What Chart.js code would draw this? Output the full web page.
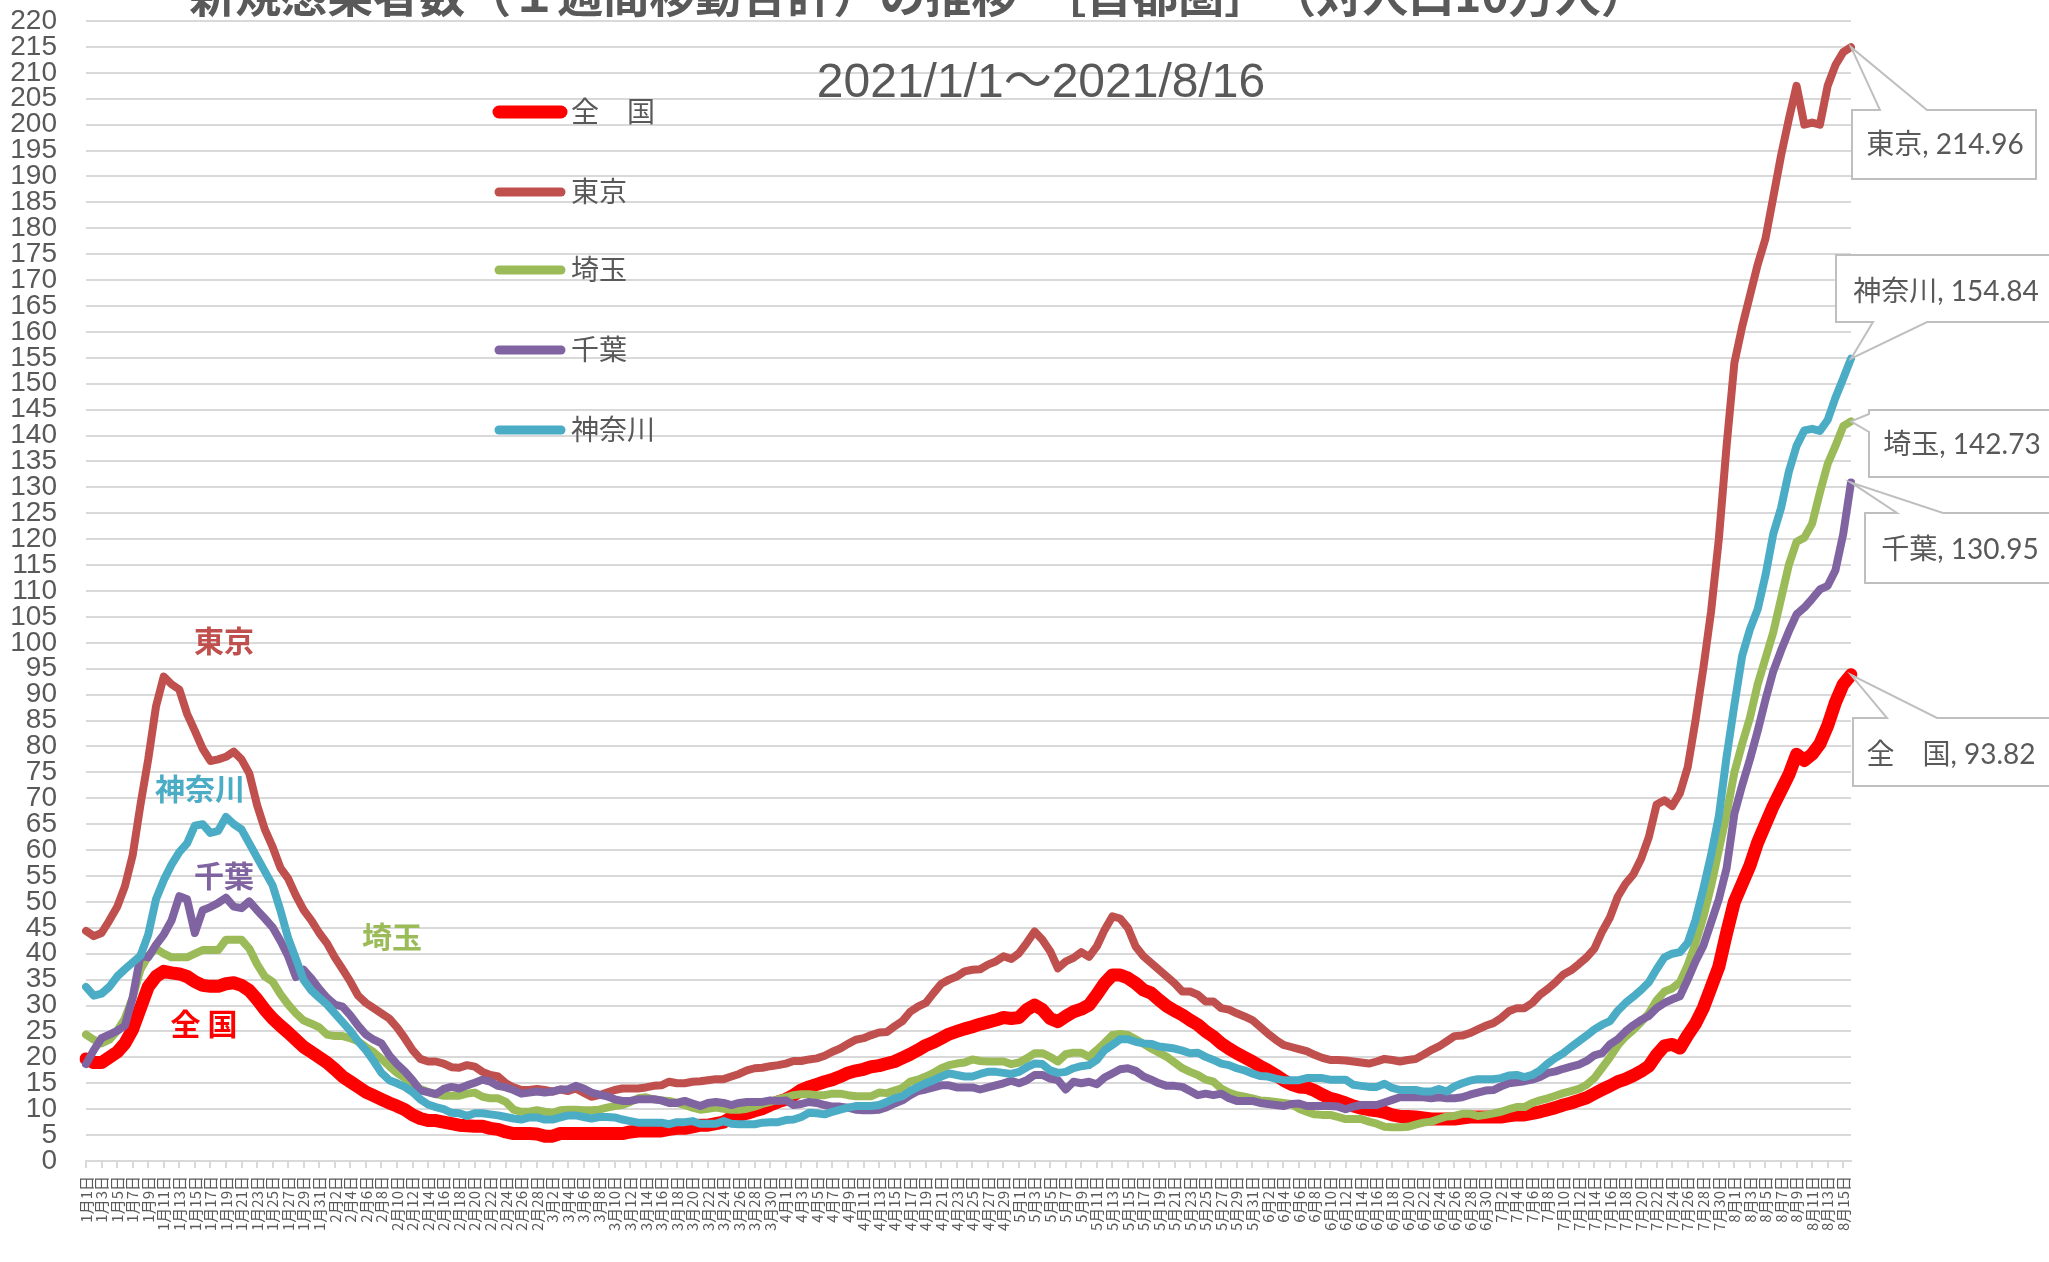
<!DOCTYPE html>
<html lang="ja">
<head>
<meta charset="utf-8">
<title>新規感染者数（１週間移動合計）の推移［首都圏］</title>
<script src="https://cdn.jsdelivr.net/npm/chart.js@4.4.1/dist/chart.umd.min.js"></script>
<style>
  html, body { margin: 0; padding: 0; background: #fff; }
  #wrap { width: 2049px; height: 1262px; }
</style>
</head>
<body>
<div id="wrap"><canvas id="chart" width="2049" height="1262"></canvas></div>
<script>
// --- data: 2021/1/1 .. 2021/8/16, per 100k, 7-day moving total ---
const chartTitle = '新規感染者数（１週間移動合計）の推移　［首都圏］　（対人口10万人）';
const subTitle = '2021/1/1～2021/8/16';
const seriesNames = ['全　国', '東京', '埼玉', '千葉', '神奈川'];

const dateLabels = [];
for (let i = 0; i < 228; i++) {
    const d = new Date(2021, 0, 1 + i);
    dateLabels.push((d.getMonth() + 1) + '月' + d.getDate() + '日');
}

const zenkoku = [
    19.7, 19, 19, 20, 21, 22.7, 25.4, 29.5, 33.6, 35.6,
    36.6, 36.3, 36.1, 35.6, 34.6, 33.9, 33.7, 33.7, 34.2, 34.4,
    33.9, 32.9, 31.2, 29.2, 27.5, 26.1, 24.8, 23.4, 22, 21,
    20, 19, 17.7, 16.3, 15.3, 14.3, 13.3, 12.6, 11.9, 11.2,
    10.6, 9.9, 8.9, 8.2, 7.8, 7.8, 7.5, 7.2, 6.9, 6.8,
    6.7, 6.7, 6.3, 6.1, 5.6, 5.3, 5.3, 5.3, 5.2, 4.8,
    4.8, 5.3, 5.3, 5.3, 5.3, 5.3, 5.3, 5.3, 5.3, 5.3,
    5.6, 5.8, 5.8, 5.8, 5.8, 6.1, 6.3, 6.3, 6.6, 6.9,
    6.9, 7.2, 7.5, 8.4, 8.8, 9.2, 9.7, 10.1, 10.8, 11.4,
    11.9, 12.7, 13.7, 14.3, 14.8, 15.3, 15.7, 16.3, 17, 17.4,
    17.7, 18.2, 18.4, 18.8, 19.2, 19.9, 20.6, 21.4, 22.3, 22.9,
    23.7, 24.5, 25, 25.5, 25.9, 26.4, 26.8, 27.2, 27.7, 27.5,
    27.7, 29.2, 30.1, 29.2, 27.5, 26.9, 27.9, 28.8, 29.3, 30.1,
    32.1, 34.3, 35.9, 35.9, 35.3, 34.3, 33, 32.4, 31.1, 29.9,
    29, 28.2, 27.2, 26.3, 25, 24, 22.7, 21.7, 20.8, 20,
    19.2, 18.3, 17.5, 16.6, 15.6, 14.8, 14.3, 14.2, 13.6, 12.8,
    12.1, 11.7, 11.2, 10.6, 10.2, 9.9, 9.7, 9.4, 8.9, 8.6,
    8.6, 8.5, 8.3, 8.1, 8.1, 8.1, 8.1, 8.3, 8.5, 8.5,
    8.5, 8.5, 8.5, 8.7, 8.9, 8.9, 9.2, 9.5, 9.9, 10.3,
    10.8, 11.2, 11.7, 12.2, 13, 13.8, 14.5, 15.3, 15.8, 16.5,
    17.3, 18.3, 20.5, 22.2, 22.5, 21.8, 24.3, 26.5, 29.5, 33.5,
    37.5, 44, 50, 53.5, 57, 61.5, 65, 68.5, 71.5, 74.5,
    78.5, 77.3, 78.5, 80.5, 84, 88.5, 92, 93.82
];

const tokyo = [
    44.4, 43.4, 44, 46.4, 49, 53, 59, 68.7, 77.5, 87.7,
    93.5, 92, 91, 86.3, 83, 79.6, 77.2, 77.5, 78, 79,
    77.5, 74.8, 68.7, 64, 60.6, 56.6, 54.5, 51.2, 48.4, 46.4,
    44, 42, 39.3, 37, 34.6, 31.9, 30.5, 29.5, 28.5, 27.5,
    25.8, 23.7, 21.4, 19.7, 19.2, 19.2, 18.8, 18.1, 18, 18.5,
    18.2, 17.2, 16.6, 16.3, 15, 14.2, 13.7, 13.7, 13.9, 13.7,
    13.4, 13.8, 13.5, 14, 13.2, 12.4, 12.7, 13.2, 13.7, 14,
    14, 14, 14.2, 14.5, 14.6, 15.3, 15, 15, 15.3, 15.4,
    15.6, 15.8, 15.8, 16.3, 16.8, 17.5, 17.9, 18, 18.3, 18.5,
    18.8, 19.3, 19.3, 19.6, 19.8, 20.3, 21.1, 21.7, 22.6, 23.4,
    23.7, 24.3, 24.8, 24.9, 26, 27, 28.8, 29.8, 30.5, 32.4,
    34.2, 35, 35.6, 36.6, 36.9, 37, 37.9, 38.5, 39.5, 39,
    40.1, 42.1, 44.3, 42.7, 40.5, 37.2, 38.5, 39.2, 40.3, 39.4,
    41.4, 44.6, 47.2, 46.8, 45, 41.4, 39.5, 38.2, 36.9, 35.6,
    34.3, 32.7, 32.7, 32.1, 30.8, 30.8, 29.5, 29.2, 28.5, 27.9,
    27.2, 25.9, 24.6, 23.4, 22.4, 22, 21.6, 21.2, 20.5, 19.9,
    19.5, 19.5, 19.4, 19.2, 19, 18.8, 19.2, 19.7, 19.5, 19.2,
    19.5, 19.7, 20.5, 21.4, 22.1, 23.1, 24.1, 24.2, 24.7, 25.4,
    26.1, 26.6, 27.6, 28.9, 29.5, 29.5, 30.5, 32.1, 33.2, 34.5,
    36, 36.8, 38, 39.3, 41, 44.3, 47, 51, 53.5, 55.3,
    58.3, 62.5, 68.8, 69.6, 68.5, 71, 76, 85, 95, 106,
    120, 138, 154, 161, 167, 173, 178, 186, 194, 201,
    207.5, 200, 200.4, 200, 207.5, 211.5, 214, 214.96
];

const saitama = [
    24.4, 23.4, 22.7, 23.4, 25.1, 27.5, 31.5, 36.9, 39.6, 41,
    40, 39.3, 39.3, 39.3, 40, 40.7, 40.7, 40.7, 42.7, 42.7,
    42.7, 41, 38, 35.6, 34.6, 32.2, 30.2, 28.5, 27.1, 26.5,
    25.8, 24.4, 24.1, 24.1, 23.7, 23.1, 22, 21, 19.7, 18.3,
    17, 16, 15, 13.9, 13.3, 12.9, 12.6, 12.6, 12.6, 13,
    13.2, 12.4, 12.1, 12.1, 11.4, 9.9, 9.5, 9.5, 9.8, 9.5,
    9.3, 9.8, 9.9, 9.9, 9.8, 9.8, 9.9, 10.3, 10.6, 10.8,
    11.4, 12.1, 12.3, 11.9, 11.7, 11.6, 11.2, 10.8, 10.3, 9.9,
    10.1, 10.3, 10.1, 9.9, 9.9, 10.1, 10.5, 11, 11.4, 11.9,
    12.3, 12.7, 12.9, 12.9, 12.7, 12.7, 13, 13, 12.7, 12.5,
    12.5, 12.5, 13.2, 13.1, 13.6, 14.1, 15.3, 15.7, 16.3, 17,
    17.9, 18.5, 18.8, 19, 19.6, 19.3, 19.2, 19.2, 19.2, 18.7,
    19, 19.8, 20.8, 20.8, 20.1, 19.2, 20.6, 20.9, 20.9, 20.1,
    21.4, 22.8, 24.3, 24.5, 24.3, 23.5, 22.6, 21.7, 20.9, 20.1,
    19, 17.9, 17.2, 16.6, 15.7, 15.3, 14, 13.2, 12.7, 12.4,
    12.1, 11.7, 11.6, 11.4, 11.2, 11, 10.1, 9.5, 9, 8.9,
    8.9, 8.5, 8.1, 8.1, 8.1, 7.6, 7.2, 6.6, 6.5, 6.5,
    6.6, 7, 7.4, 7.6, 8.1, 8.6, 8.7, 9.1, 9.1, 8.7,
    8.9, 9.2, 9.5, 10, 10.4, 10.4, 11.2, 11.7, 12.1, 12.6,
    13.1, 13.5, 13.9, 14.7, 16, 18, 20, 22.3, 24, 25.3,
    26.8, 28.5, 31, 32.7, 33.3, 34.5, 37.8, 42, 47, 53,
    60, 67, 75, 80.5, 85.5, 92, 97, 102, 108.5, 115,
    119.5, 120.3, 123, 129, 134.5, 138, 141.8, 142.73
];

const chiba = [
    18.7, 21.4, 23.7, 24.4, 25.1, 26.1, 31.5, 39.6, 39.3, 41.7,
    43.7, 46.4, 51.1, 50.5, 44, 48.4, 49, 49.8, 50.8, 49.1,
    48.8, 50.1, 48.4, 46.8, 45.1, 42.5, 39.5, 35.5, 36.9, 35.2,
    33.2, 31.5, 30.2, 29.8, 28.1, 26.1, 24.4, 23.4, 22.7, 20.4,
    18.7, 17.3, 15.6, 13.6, 13.3, 12.9, 13.9, 14.3, 14, 14.6,
    15.1, 15.7, 15.3, 14.5, 14.2, 13.7, 13, 13.2, 13.4, 13.2,
    13.4, 13.8, 13.8, 14.5, 14, 13.2, 12.8, 12.5, 11.9, 11.6,
    11.6, 11.9, 11.9, 11.9, 11.7, 11.2, 11.2, 11.6, 11.1, 10.6,
    11.2, 11.4, 11.2, 10.8, 11.2, 11.4, 11.4, 11.4, 11.7, 11.6,
    11.7, 10.8, 11, 11.4, 11.2, 10.8, 10.5, 10.5, 10.3, 9.9,
    9.8, 9.8, 9.9, 10.4, 11.1, 11.7, 12.7, 13.5, 13.8, 14.2,
    14.6, 14.6, 14.2, 14.2, 14.2, 13.8, 14.2, 14.6, 15, 15.5,
    15, 15.6, 16.6, 16.6, 15.9, 15.6, 13.8, 15.3, 15, 15.3,
    14.8, 16.1, 16.9, 17.7, 17.9, 17.4, 16.3, 15.7, 15, 14.5,
    14.5, 14.3, 13.5, 12.7, 13, 12.7, 13, 12.1, 11.6, 11.6,
    11.6, 11.2, 11, 10.8, 10.6, 11, 11.1, 10.6, 10.6, 10.6,
    10.6, 10.5, 10, 10.5, 10.8, 10.8, 10.8, 11.3, 11.8, 12.3,
    12.3, 12.3, 12.3, 12.1, 12.3, 12.1, 12.1, 12.3, 12.8, 13.2,
    13.6, 13.7, 14.4, 15, 15.2, 15.4, 15.7, 16.2, 17, 17.3,
    17.8, 18.2, 18.6, 19.3, 20.4, 20.8, 22.5, 23.5, 25, 26.2,
    27.2, 28, 29.5, 30.5, 31.2, 31.8, 35, 38.5, 41.5, 46,
    50.5, 56.5, 67, 72.5, 77.5, 83, 89, 94.5, 98.5, 102.2,
    105.5, 106.8, 108.5, 110.3, 111, 114, 121, 130.95
];

const kanagawa = [
    33.6, 31.9, 32.3, 33.6, 35.6, 37, 38.3, 39.6, 43.7, 50.5,
    54.2, 57.2, 59.6, 61.3, 64.7, 65, 63.3, 63.7, 66.4, 65,
    64, 61.3, 58.6, 55.9, 53.2, 48.4, 43, 39, 34.9, 32.9,
    31.5, 30.2, 28.5, 26.8, 25.1, 23.1, 21.4, 19.3, 17, 15.6,
    15, 14.3, 13.3, 11.9, 10.9, 10.4, 10, 9.3, 9.2, 8.7,
    9.2, 9.2, 9, 8.8, 8.5, 8.2, 8, 8.4, 8.4, 8,
    8, 8.4, 8.8, 8.8, 8.5, 8.2, 8.5, 8.5, 8.4, 8,
    7.7, 7.4, 7.4, 7.4, 7.4, 7.1, 7.5, 7.5, 7.7, 7.2,
    7.2, 7.2, 7.7, 7.2, 7.1, 7.1, 7.1, 7.4, 7.5, 7.5,
    7.9, 8, 8.5, 9.3, 9.2, 9, 9.5, 9.9, 10.3, 10.6,
    10.6, 10.6, 10.8, 11.4, 12.1, 12.5, 13.5, 14.3, 15, 15.6,
    16.3, 16.9, 16.6, 16.3, 16.3, 16.8, 17.2, 17.2, 17, 16.8,
    17.2, 18.1, 18.8, 18.7, 17.5, 17, 17.2, 17.9, 18.3, 18.5,
    19.5, 21.4, 22.4, 23.5, 23.5, 23, 22.7, 22.6, 22.1, 21.9,
    21.7, 21.3, 20.8, 20.9, 20.1, 19.5, 18.8, 18.5, 17.9, 17.5,
    16.9, 16.4, 16.3, 15.9, 15.6, 15.6, 15.6, 16, 16, 16,
    15.7, 15.7, 15.7, 14.7, 14.5, 14.3, 14.3, 14.9, 14.1, 13.7,
    13.7, 13.7, 13.4, 13.4, 13.9, 13.4, 14.4, 15, 15.5, 15.8,
    15.8, 15.8, 16, 16.5, 16.6, 16.2, 16.6, 17.5, 18.8, 19.9,
    20.8, 22, 23.1, 24.2, 25.4, 26.3, 27, 29, 30.5, 31.7,
    33, 34.5, 37, 39.3, 40, 40.3, 42.1, 46.5, 52.5, 59,
    66.5, 78, 88, 97.5, 102.6, 106.5, 113, 121, 126, 133,
    138, 141, 141.3, 140.9, 143, 147.3, 151, 154.84
];

const seriesColors = ['#FF0000', '#C0504D', '#9BBB59', '#8064A2', '#4BACC6'];
const seriesWidths = [13, 8, 8, 8, 8];
const seriesData = [zenkoku, tokyo, saitama, chiba, kanagawa];

// --- decorations: title, legend, in-plot names, end callouts ---
const legendRows = [112, 192, 270, 350, 430];
const plotNames = [
    { ds: 1, text: '東京', x: 224, y: 641 },
    { ds: 4, text: '神奈川', x: 200, y: 789 },
    { ds: 3, text: '千葉', x: 224, y: 876 },
    { ds: 2, text: '埼玉', x: 392, y: 937 },
    { ds: 0, text: '全 国', x: 204, y: 1024 }
];
const callouts = [
    { ds: 1, box: [1852, 110, 2036, 179], side: 'top', base: [1880, 1927], tx: 1945, ty: 145 },
    { ds: 4, box: [1836, 255, 2060, 322], side: 'bottom', base: [1873, 1927], tx: 1946, ty: 292 },
    { ds: 2, box: [1869, 410, 2060, 477], side: 'left', base: [414, 432], tx: 1962, ty: 445 },
    { ds: 3, box: [1865, 513, 2060, 583], side: 'top', base: [1897, 1943], tx: 1960, ty: 550 },
    { ds: 0, box: [1853, 718, 2060, 786], side: 'top', base: [1887, 1937], tx: 1951, ty: 755 }
];

function calloutPath(ctx, c, tip) {
    const [x1, y1, x2, y2] = c.box;
    const [b1, b2] = c.base;
    ctx.beginPath();
    if (c.side === 'top') {
        ctx.moveTo(x1, y1); ctx.lineTo(b1, y1); ctx.lineTo(tip.x, tip.y); ctx.lineTo(b2, y1);
        ctx.lineTo(x2, y1); ctx.lineTo(x2, y2); ctx.lineTo(x1, y2);
    } else if (c.side === 'bottom') {
        ctx.moveTo(x1, y1); ctx.lineTo(x2, y1); ctx.lineTo(x2, y2); ctx.lineTo(b2, y2);
        ctx.lineTo(tip.x, tip.y); ctx.lineTo(b1, y2); ctx.lineTo(x1, y2);
    } else {
        ctx.moveTo(x1, y1); ctx.lineTo(x2, y1); ctx.lineTo(x2, y2); ctx.lineTo(x1, y2);
        ctx.lineTo(x1, b2); ctx.lineTo(tip.x, tip.y); ctx.lineTo(x1, b1);
    }
    ctx.closePath();
}

const decor = {
    id: 'decor',
    afterDraw(chart) {
        const ctx = chart.ctx;
        const xs = chart.scales.x, ys = chart.scales.y;
        ctx.save();

        ctx.fillStyle = '#595959';
        ctx.textAlign = 'center';
        ctx.textBaseline = 'alphabetic';
        ctx.font = "bold 46px 'Noto Sans CJK JP'";
        ctx.fillText(chartTitle, 918, 12);
        ctx.font = "48px 'Liberation Sans', 'Noto Sans CJK JP'";
        ctx.fillText(subTitle, 1041, 97);

        // legend
        ctx.textAlign = 'left';
        ctx.textBaseline = 'middle';
        ctx.font = "28px 'Noto Sans CJK JP'";
        seriesNames.forEach((name, i) => {
            const y = legendRows[i];
            ctx.strokeStyle = seriesColors[i];
            ctx.lineWidth = i === 0 ? 13 : 9;
            ctx.lineCap = 'round';
            ctx.beginPath();
            ctx.moveTo(499, y);
            ctx.lineTo(561, y);
            ctx.stroke();
            ctx.fillStyle = '#595959';
            ctx.fillText(name, 571, y - 1);
        });

        // names inside plot
        ctx.textAlign = 'center';
        ctx.font = "bold 30px 'Noto Sans CJK JP'";
        plotNames.forEach(p => {
            ctx.fillStyle = seriesColors[p.ds];
            ctx.fillText(p.text, p.x, p.y);
        });

        // end callouts
        ctx.font = "28px Lato, 'Noto Sans CJK JP'";
        ctx.lineCap = 'butt';
        ctx.lineJoin = 'miter';
        callouts.forEach(c => {
            const data = seriesData[c.ds];
            const last = data.length - 1;
            const tip = { x: xs.getPixelForValue(last), y: ys.getPixelForValue(data[last]) };
            calloutPath(ctx, c, tip);
            ctx.fillStyle = '#ffffff';
            ctx.fill();
            ctx.strokeStyle = '#BFBFBF';
            ctx.lineWidth = 2;
            ctx.stroke();
            ctx.fillStyle = '#595959';
            ctx.fillText(seriesNames[c.ds] + ', ' + data[last], c.tx, c.ty);
        });

        ctx.restore();
    }
};

Chart.defaults.color = '#595959';
Chart.defaults.font.family = "'Noto Sans CJK JP', sans-serif";

new Chart(document.getElementById('chart'), {
    type: 'line',
    data: {
        labels: dateLabels,
        datasets: seriesNames.map((name, i) => ({
            label: name,
            data: seriesData[i],
            borderColor: seriesColors[i],
            backgroundColor: seriesColors[i],
            borderWidth: seriesWidths[i],
            pointRadius: 0,
            tension: 0,
            fill: false,
            borderCapStyle: 'round',
            borderJoinStyle: 'round',
            order: 4 - i
        }))
    },
    options: {
        responsive: false,
        animation: false,
        devicePixelRatio: 1,
        layout: { padding: { left: 0, right: 198, top: 21, bottom: 0 } },
        plugins: {
            legend: { display: false },
            tooltip: { enabled: false },
            title: { display: false }
        },
        scales: {
            x: {
                offset: false,
                afterFit: (scale) => { scale.height = 101; },
                grid: {
                    drawOnChartArea: false,
                    drawTicks: true,
                    tickLength: 7,
                    lineWidth: 2,
                    color: (c) => (c.index % 2 === 0 ? '#D9D9D9' : 'rgba(0,0,0,0)')
                },
                border: { display: true, color: '#D9D9D9', width: 2 },
                ticks: {
                    autoSkip: false,
                    minRotation: 90,
                    maxRotation: 90,
                    padding: 8,
                    font: { size: 15 },
                    color: '#595959',
                    callback: function (v, i) { return i % 2 === 0 ? this.getLabelForValue(v) : ''; }
                }
            },
            y: {
                min: 0,
                max: 220,
                afterFit: (scale) => {
                    scale.width = 86;
                    scale.paddingTop = 0;
                    scale.paddingBottom = 0;
                },
                grid: { color: '#D9D9D9', lineWidth: 2, drawTicks: false },
                border: { display: false },
                ticks: {
                    stepSize: 5,
                    autoSkip: false,
                    padding: 29,
                    font: { family: "'Liberation Sans', sans-serif", size: 28 },
                    color: '#595959'
                }
            }
        }
    },
    plugins: [decor]
});
</script>
</body>
</html>
